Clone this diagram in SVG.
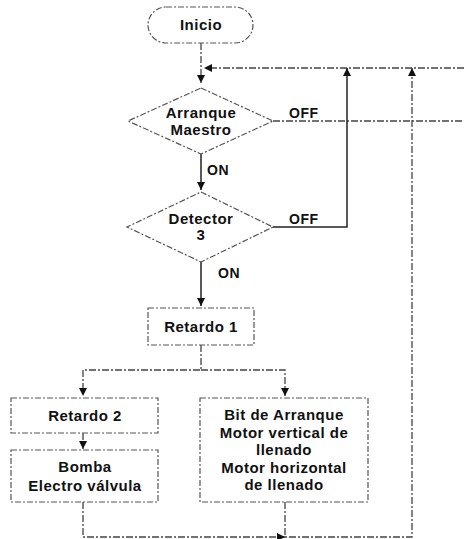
<svg xmlns="http://www.w3.org/2000/svg" width="464" height="539" viewBox="0 0 464 539">
<defs>
<style>
.t{font-family:"Liberation Sans",Arial,sans-serif;font-weight:bold;font-size:15px;letter-spacing:0.5px;fill:#111;text-anchor:middle}
.l{font-family:"Liberation Sans",Arial,sans-serif;font-weight:bold;font-size:14px;letter-spacing:0.5px;fill:#111}
.s{fill:none;stroke:#555;stroke-width:1.2;stroke-dasharray:6 2 2 2}
.c{fill:none;stroke:#444;stroke-width:1.3;stroke-dasharray:7 2 2 2}
.cs{fill:none;stroke:#222;stroke-width:1.5}
</style>
<marker id="ah" markerWidth="8" markerHeight="8" refX="8" refY="4" orient="auto" markerUnits="userSpaceOnUse">
<path d="M0,0 L8,4 L0,8 z" fill="#111"/>
</marker>
</defs>
<rect width="464" height="539" fill="#fff"/>
<g id="connectors">
<path class="c" d="M201,43 V83" marker-end="url(#ah)"/>
<path class="c" d="M464,68 H204" marker-end="url(#ah)"/>
<path class="cs" d="M201,154 V190" marker-end="url(#ah)"/>
<path class="c" d="M273,121 H464"/>
<path class="cs" d="M273,227 H347 V68" marker-end="url(#ah)"/>
<path class="cs" d="M201,262 V306" marker-end="url(#ah)"/>
<path class="c" d="M201,345 V370 H83 V396" marker-end="url(#ah)"/>
<path class="c" d="M201,370 H285 V396" marker-end="url(#ah)"/>
<path class="c" d="M83,433 V449" marker-end="url(#ah)"/>
<path class="c" d="M83,502 V537 H285" marker-end="url(#ah)"/>
<path class="c" d="M285,502 V537 H412 V68" marker-end="url(#ah)"/>
</g>
<g id="inicio">
<rect class="s" x="148" y="7" width="105" height="36" rx="18"/>
<text class="t" x="201" y="30">Inicio</text>
</g>
<g id="arranque">
<path class="s" d="M201,88 L273,121 L201,154 L128,121 Z"/>
<text class="t" x="201" y="118">Arranque</text>
<text class="t" x="201" y="135">Maestro</text>
<text class="l" x="289" y="118">OFF</text>
<text class="l" x="207" y="175">ON</text>
</g>
<g id="detector">
<path class="s" d="M201,192 L273,227 L201,262 L127,227 Z"/>
<text class="t" x="201" y="224">Detector</text>
<text class="t" x="201" y="240">3</text>
<text class="l" x="289" y="224">OFF</text>
<text class="l" x="218" y="278">ON</text>
</g>
<g id="retardo1">
<rect class="s" x="148" y="308" width="106" height="37"/>
<text class="t" x="201" y="332">Retardo 1</text>
</g>
<g id="retardo2">
<rect class="s" x="11" y="398" width="147" height="35"/>
<text class="t" x="85" y="421">Retardo 2</text>
</g>
<g id="bomba">
<rect class="s" x="11" y="450" width="147" height="52"/>
<text class="t" x="85" y="472">Bomba</text>
<text class="t" x="85" y="491">Electro válvula</text>
</g>
<g id="motores">
<rect class="s" x="200" y="398" width="168" height="104"/>
<text class="t" x="284" y="420">Bit de Arranque</text>
<text class="t" x="284" y="438">Motor vertical de</text>
<text class="t" x="284" y="455">llenado</text>
<text class="t" x="284" y="473">Motor horizontal</text>
<text class="t" x="284" y="490">de llenado</text>
</g>
</svg>
